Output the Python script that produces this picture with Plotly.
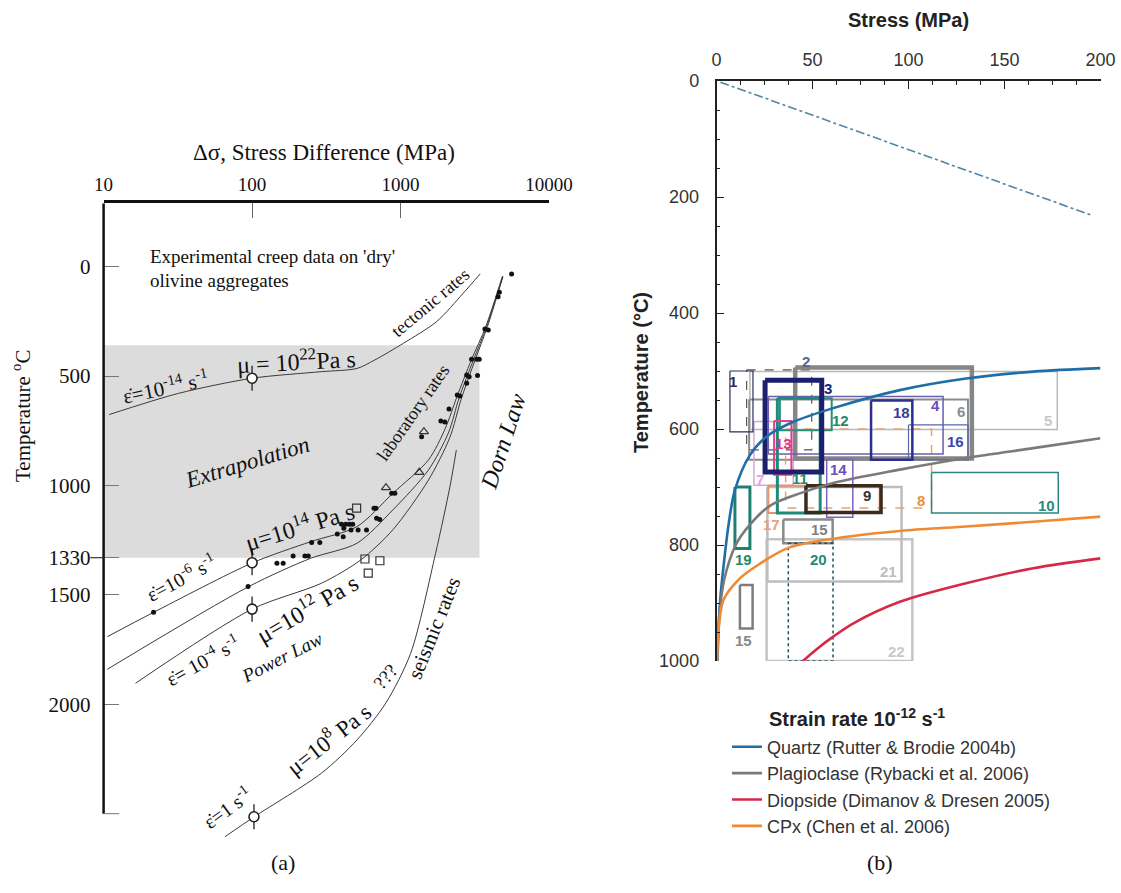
import numpy as np
import plotly.graph_objects as go

W, H = 1121, 893

# ================= Panel (a) data =================
A_STRESS_TICKS = [10, 100, 1000, 10000]
A_TEMP_TICKS = [0, 500, 1000, 1330, 1500, 2000]
A_TEMP_LABELS = ["0", "500", "1000", "1330", "1500", "2000"]
A_AXIS_END = [-290, 2500]

EXTRAP_S = [10, 3400]
EXTRAP_T = [359, 1330]

TECT_S = [10.9, 32, 100, 293, 510, 673, 1047, 1750, 2640, 3440]
TECT_T = [676, 579, 510, 480, 465, 426, 350, 251, 122, 33]

LAB6_S = [10.6, 21.7, 101, 248, 509, 887, 1543, 2000, 2400, 3000, 3750, 4850]
LAB6_T = [1691, 1580, 1353, 1257, 1188, 1036, 883, 740, 594, 426, 274, 45]

MID_S = [10.6, 95, 248, 509, 887, 1543, 2100, 2480, 3100, 3800, 4880]
MID_T = [1840, 1462, 1333, 1264, 1112, 929, 760, 600, 426, 274, 45]

LAB4_S = [16.4, 100, 293, 538, 887, 1543, 2150, 2560, 3180, 3850, 4900]
LAB4_T = [1904, 1565, 1447, 1341, 1203, 975, 780, 606, 426, 274, 45]

SEIS_S = [65.8, 103.5, 293, 509, 795, 1170, 1722, 2152, 2376]
SEIS_T = [2605, 2514, 2315, 2163, 1995, 1767, 1310, 1005, 838]

DOT_S = [5600, 4630, 4540, 3700, 3900, 3010, 3260, 3390, 2790, 2900, 3300, 2790,
         2410, 2510, 2120, 1870, 1990, 1387, 871, 916, 662, 683, 690, 725, 401,
         428, 452, 476, 415, 464, 518, 590, 375, 411, 252, 286, 189, 227, 239,
         147, 162, 94, 21.7]
DOT_T = [33, 117, 137, 285, 289, 423, 423, 423, 495, 503, 498, 533,
         586, 591, 650, 705, 710, 777, 1036, 1036, 1104, 1104, 1150, 1155, 1177,
         1177, 1177, 1177, 1195, 1203, 1203, 1203, 1222, 1234, 1261, 1261, 1322, 1322, 1322,
         1356, 1356, 1462, 1580]

TRI_S = [1437, 1337, 798]
TRI_T = [754, 940, 1010]

SQ_S = [506, 576, 726, 606]
SQ_T = [1104, 1336, 1344, 1401]

REF_S = [100, 100, 100, 103]
REF_T = [510, 1353, 1565, 2514]

# ================= Panel (b) data =================
QTZ_S = [0.5, 1.8, 4.4, 6.5, 9.6, 17.4, 26.1, 39.8, 60.8, 95.5, 130, 165, 200]
QTZ_T = [1000, 900, 815, 760, 705, 645, 613, 588, 564, 533, 513, 501, 495]

PLAG_S = [0.3, 1.5, 4, 10, 17.4, 28, 43.4, 60.8, 95.5, 130, 165, 200]
PLAG_T = [1000, 920, 860, 800, 765, 732, 711, 693, 670, 650, 633, 616]

DIOP_S = [45, 52, 60.8, 71.3, 95.5, 130, 165, 200]
DIOP_T = [1000, 980, 958, 935, 898, 866, 840, 823]

CPX_S = [0.3, 1.0, 3.6, 11.4, 20, 37.4, 63.4, 98, 130, 165, 200]
CPX_T = [1000, 950, 895, 860, 838, 805, 788, 775, 768, 760, 751]

GEO_S = [2, 195]
GEO_T = [2, 231]

BOX_NAME = ["22", "21", "5", "6", "1b", "8", "10", "7", "17", "2", "4", "16", "18",
            "14", "12", "11", "13", "15a", "15b", "19", "20", "9", "1", "3"]
BOX_S0 = [26.1, 26.5, 17.4, 17, 15.7, 36, 112, 19.5, 27, 41, 27, 100, 80.5,
          57.4, 33, 31.7, 30, 34.8, 12.2, 9.6, 37.4, 46.6, 7, 25.3]
BOX_S1 = [102, 96.4, 177.5, 131, 49.6, 112, 178, 40, 85, 133, 118, 131, 102,
          71, 60, 54, 39, 60.5, 18.8, 17.4, 60.7, 85.7, 19, 54.8]
BOX_T0 = [790, 700, 501, 549, 498, 600, 675, 587, 698, 494, 544, 593, 551,
          652, 547, 547, 586, 756, 869, 700, 797, 698, 500, 516]
BOX_T1 = [1000, 863, 601, 653, 636, 736, 745, 697, 745, 651, 643, 653, 653,
          752, 602, 745, 679, 797, 944, 806, 1000, 744, 605, 674]

LABEL_TEXT = ["1", "2", "3", "4", "5", "6", "7", "8", "9", "10", "11", "12", "13",
              "14", "15", "15", "16", "17", "18", "19", "20", "21", "22"]
LABEL_S = [8.8, 46.6, 58.2, 113.8, 172.8, 127.2, 22.7, 106.3, 78.5, 172, 43.5, 64.7, 34.8,
           63.5, 53.9, 14, 124.7, 28.7, 96.4, 14, 53, 89.5, 93.8]
LABEL_T = [518, 484, 530, 560, 585, 570, 687, 723, 715, 732, 686, 585, 625,
           669, 774, 964, 622, 765, 572, 825, 825, 846, 984]

LEGEND_NAMES = ["Quartz (Rutter & Brodie 2004b)", "Plagioclase (Rybacki et al. 2006)",
                "Diopside (Dimanov & Dresen 2005)", "CPx (Chen et al. 2006)"]

# ================= styles =================
BOX_STYLE = {
    "22": ("#c4c4c4", 2.5, "solid"), "21": ("#bdbdbd", 2.5, "solid"),
    "5": ("#b8b8b8", 1.5, "solid"), "6": ("#8c8c8c", 2, "solid"),
    "1b": ("#555555", 1.2, "dash"), "8": ("#e9a36c", 1.5, "dash"),
    "10": ("#2d8585", 1.5, "solid"), "7": ("#d9a3dc", 1.5, "solid"),
    "17": ("#e8936a", 2, "solid"), "2": ("#868686", 4.5, "solid"),
    "4": ("#6b5db0", 1.5, "solid"), "16": ("#5a66b0", 1.2, "solid"),
    "18": ("#2e2e8c", 2.5, "solid"), "14": ("#8060c0", 1.5, "solid"),
    "12": ("#21907c", 2, "solid"), "11": ("#1e8a78", 3, "solid"),
    "13": ("#e0408f", 2, "solid"), "15a": ("#8a8a8a", 2.5, "solid"),
    "15b": ("#7d7d7d", 2.5, "solid"), "19": ("#207f6e", 3, "solid"),
    "20": ("#1d4f5e", 1.5, "dot"), "9": ("#3b2b1c", 3.5, "solid"),
    "1": ("#2a2f5a", 1.2, "solid"), "3": ("#1c1f6e", 5, "solid"),
}
LABEL_COLORS = ["#2a2f5a", "#5d6290", "#1c1f6e", "#6b4fb8", "#c8c8c8", "#8c8c8c", "#dca6e4",
                "#ef8f3a", "#333333", "#2a8a80", "#1f8a6c", "#1f8a6c", "#e0358a", "#6a4fb8",
                "#808080", "#888888", "#3848a8", "#eaa078", "#3a3a9a", "#1f8a6c", "#1f8a7a",
                "#bdbdbd", "#c8c8c8"]
CURVE_COLORS = ["#1f6ea6", "#7a7a7a", "#d42a48", "#ef8a33"]

SERIF = "Liberation Serif, Times New Roman, serif"
SANS = "Liberation Sans, Arial, sans-serif"

# domains (paper fractions)
AX_A = [103.6 / W, 549 / W]
AY_A = [(H - 846.5) / H, (H - 203.2) / H]
AX_B = [716.5 / W, 1100.5 / W]
AY_B = [(H - 661) / H, (H - 81) / H]

fig = go.Figure()

# ---------- panel (a) ----------
fig.add_trace(go.Scatter(
    x=[EXTRAP_S[0], EXTRAP_S[1], EXTRAP_S[1], EXTRAP_S[0], EXTRAP_S[0]],
    y=[EXTRAP_T[0], EXTRAP_T[0], EXTRAP_T[1], EXTRAP_T[1], EXTRAP_T[0]],
    fill="toself", fillcolor="#dcdcdc", line=dict(width=0), mode="lines",
    xaxis="x", yaxis="y", showlegend=False, hoverinfo="skip"))

for xs, ys in [(TECT_S, TECT_T), (LAB6_S, LAB6_T), (MID_S, MID_T),
               (LAB4_S, LAB4_T), (SEIS_S, SEIS_T)]:
    fig.add_trace(go.Scatter(x=xs, y=ys, mode="lines",
                             line=dict(color="#3a3a3a", width=1, shape="spline", smoothing=0.8),
                             xaxis="x", yaxis="y", showlegend=False, hoverinfo="skip"))

fig.add_trace(go.Scatter(x=DOT_S, y=DOT_T, mode="markers",
                         marker=dict(symbol="circle", size=5, color="#111"),
                         xaxis="x", yaxis="y", showlegend=False))
fig.add_trace(go.Scatter(x=TRI_S, y=TRI_T, mode="markers",
                         marker=dict(symbol="triangle-up-open", size=8, color="#333",
                                     line=dict(width=1.2)),
                         xaxis="x", yaxis="y", showlegend=False))
fig.add_trace(go.Scatter(x=SQ_S, y=SQ_T, mode="markers",
                         marker=dict(symbol="square-open", size=8, color="#333",
                                     line=dict(width=1.2)),
                         xaxis="x", yaxis="y", showlegend=False))
fig.add_trace(go.Scatter(x=REF_S, y=REF_T, mode="markers",
                         marker=dict(symbol="line-ns", size=18, line=dict(width=1.3, color="#222")),
                         xaxis="x", yaxis="y", showlegend=False))
fig.add_trace(go.Scatter(x=REF_S, y=REF_T, mode="markers",
                         marker=dict(symbol="circle", size=10, color="white",
                                     line=dict(width=1.6, color="#222")),
                         xaxis="x", yaxis="y", showlegend=False))

# ---------- panel (b) ----------
fig.add_trace(go.Scatter(x=GEO_S, y=GEO_T, mode="lines",
                         line=dict(color="#4f86a6", width=1.6, dash="dashdot"),
                         xaxis="x2", yaxis="y2", showlegend=False))

for i, nm in enumerate(BOX_NAME):
    col, wd, dsh = BOX_STYLE[nm]
    s0, s1, t0, t1 = BOX_S0[i], BOX_S1[i], BOX_T0[i], BOX_T1[i]
    fig.add_trace(go.Scatter(x=[s0, s1, s1, s0, s0], y=[t0, t0, t1, t1, t0], mode="lines",
                             line=dict(color=col, width=wd, dash=dsh),
                             xaxis="x2", yaxis="y2", showlegend=False, hoverinfo="skip"))

for nm, xs, ys, col in zip(LEGEND_NAMES, [QTZ_S, PLAG_S, DIOP_S, CPX_S],
                           [QTZ_T, PLAG_T, DIOP_T, CPX_T], CURVE_COLORS):
    fig.add_trace(go.Scatter(x=xs, y=ys, mode="lines", name=nm,
                             line=dict(color=col, width=2.6, shape="spline", smoothing=0.9),
                             xaxis="x2", yaxis="y2"))

# ---------- annotations ----------
ann = []

def la(text, s, t, size=17, angle=0, italic=False, xanchor="center"):
    txt = f"<i>{text}</i>" if italic else text
    ann.append(dict(x=np.log10(s), y=t, xref="x", yref="y", text=txt, showarrow=False,
                    textangle=angle, xanchor=xanchor, yanchor="middle",
                    font=dict(family=SERIF, size=size, color="#111")))

la("Experimental creep data on 'dry'", 19.9, -46, 19, xanchor="left")
la("olivine aggregates", 19.9, 61, 19, xanchor="left")
la("tectonic rates", 1581, 167, 18, -40)
la("ε̇=10<sup>-14</sup> s<sup>-1</sup>", 26.3, 548, 21, -12)
la("μ = 10<sup>22</sup>Pa s", 198, 426, 24, -3)
la("Extrapolation", 92.5, 897, 23, -17, True)
la("laboratory rates", 1210, 669, 18, -55)
la("Dorn Law", 4900, 801, 24, -72, True)
la("μ=10<sup>14</sup> Pa s", 210, 1180, 24, -17)
la("ε̇=10<sup>-6</sup> s<sup>-1</sup>", 33.3, 1417, 20, -28)
la("μ=10<sup>12</sup> Pa s", 234, 1554, 24, -30)
la("ε̇= 10<sup>-4</sup> s<sup>-1</sup>", 46, 1797, 20, -29)
la("Power Law", 158, 1788, 19, -27, True)
la("seismic rates", 1680, 1651, 21, -68)
la("μ=10<sup>8</sup> Pa s", 325, 2155, 23, -38)
la("???", 794, 1874, 19, -50)
la("ε̇=1 s<sup>-1</sup>", 68, 2470, 20, -36)

for txt, s, t, col in zip(LABEL_TEXT, LABEL_S, LABEL_T, LABEL_COLORS):
    ann.append(dict(x=s, y=t, xref="x2", yref="y2", text=f"<b>{txt}</b>", showarrow=False,
                    font=dict(family=SANS, size=15, color=col)))

def pa(text, px, py, size, family, angle=0, color="#111", xanchor="center"):
    ann.append(dict(x=px / W, y=1 - py / H, xref="paper", yref="paper", text=text,
                    showarrow=False, textangle=angle, xanchor=xanchor, yanchor="middle",
                    font=dict(family=family, size=size, color=color)))

pa("Δσ, Stress Difference (MPa)", 324, 152, 23, SERIF)
pa("Temperature <sup>o</sup>C", 21, 416, 21, SERIF, -90)
pa("(a)", 283, 862, 22, SERIF)
pa("(b)", 880, 862, 22, SERIF)
pa("<b>Stress (MPa)</b>", 908, 20, 20, SANS, color="#222")
pa("<b>Temperature (°C)</b>", 641, 373, 20, SANS, -90, color="#222")
pa("<b>Strain rate 10<sup>-12</sup> s<sup>-1</sup></b>", 767, 717, 20, SANS, color="#222",
   xanchor="left")

shapes = [
    dict(type="line", xref="x domain", yref="y", x0=0, x1=0, y0=A_AXIS_END[0], y1=A_AXIS_END[1],
         line=dict(color="#111", width=2.5)),
    dict(type="line", xref="x domain", yref="y", x0=0, x1=0.035, y0=A_AXIS_END[1], y1=A_AXIS_END[1],
         line=dict(color="#777", width=1)),
    dict(type="line", xref="x domain", yref="y", x0=-0.03, x1=0, y0=1330, y1=1330,
         line=dict(color="#333", width=1.2)),
]

fig.update_layout(
    width=W, height=H, margin=dict(l=0, r=0, t=0, b=0, autoexpand=False),
    paper_bgcolor="white", plot_bgcolor="rgba(0,0,0,0)",
    annotations=ann, shapes=shapes,
    xaxis=dict(type="log", range=[1, 4], domain=AX_A, side="top", anchor="y",
               showline=True, linecolor="#111", linewidth=2.5, showgrid=False, zeroline=False,
               ticks="inside", ticklen=15, tickcolor="#666", tickwidth=1,
               tickvals=A_STRESS_TICKS, ticktext=[str(v) for v in A_STRESS_TICKS],
               ticklabelstandoff=2,
               tickfont=dict(family=SERIF, size=19, color="#111")),
    yaxis=dict(range=[2650, -290], domain=AY_A, anchor="x", showline=False, showgrid=False,
               zeroline=False, ticks="inside", ticklen=15, tickcolor="#777", tickwidth=1,
               tickvals=A_TEMP_TICKS, ticktext=A_TEMP_LABELS, ticklabelstandoff=12,
               tickfont=dict(family=SERIF, size=21, color="#111")),
    xaxis2=dict(range=[0, 200], domain=AX_B, side="top", anchor="y2",
                showline=True, linecolor="#222", linewidth=1.5, showgrid=False, zeroline=False,
                ticks="inside", ticklen=8, tickcolor="#222", dtick=50, tick0=0,
                minor=dict(dtick=12.5, ticks="inside", ticklen=4, tickcolor="#222"),
                ticklabelstandoff=6,
                tickfont=dict(family=SANS, size=18, color="#333")),
    yaxis2=dict(range=[1000, 0], domain=AY_B, anchor="x2",
                showline=True, linecolor="#222", linewidth=1.5, showgrid=False, zeroline=False,
                ticks="inside", ticklen=8, tickcolor="#222", dtick=200, tick0=0,
                minor=dict(dtick=50, ticks="inside", ticklen=4, tickcolor="#222"),
                ticklabelstandoff=12,
                tickfont=dict(family=SANS, size=18, color="#333")),
    legend=dict(x=0.6485, y=0.1842, xanchor="left", yanchor="top",
                font=dict(family=SANS, size=18, color="#333"),
                bgcolor="rgba(0,0,0,0)", itemwidth=30),
    showlegend=True,
)

fig.write_html("out.html", config={"displayModeBar": False},
               post_script="document.body.style.margin='0';document.body.style.padding='0';"
                           "document.documentElement.style.overflow='hidden';")
